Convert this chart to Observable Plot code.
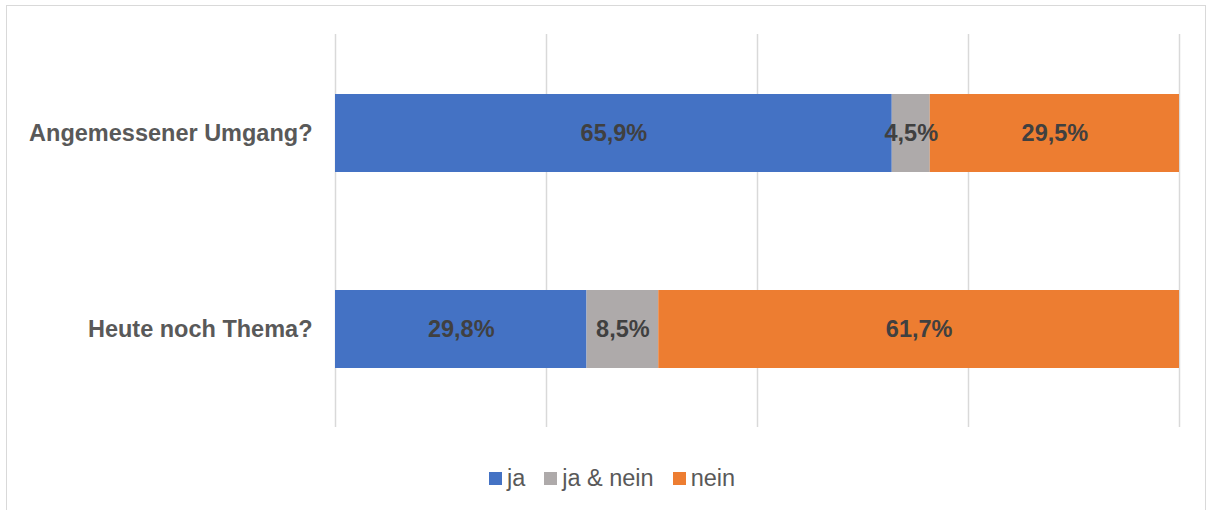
<!DOCTYPE html>
<html>
<head>
<meta charset="utf-8">
<script src="https://cdn.jsdelivr.net/npm/d3@7"></script>
<script src="https://cdn.jsdelivr.net/npm/@observablehq/plot@0.6"></script>
<style>
  html, body { margin: 0; padding: 0; background: #fff; }
  body { width: 1206px; height: 510px; position: relative; overflow: hidden; font-family: "Liberation Sans", Arial, sans-serif; }
  #frame { position: absolute; left: 6px; top: 5px; width: 1200px; height: 520px; border: 1.3px solid #d9d9d9; box-sizing: border-box; }
  #chart { position: absolute; left: 0; top: 0; }
  #legend { position: absolute; left: 0; width: 1224px; top: 464px; height: 28px; display: flex; justify-content: center; align-items: center; gap: 19px; font-size: 23.5px; line-height: 28px; color: #595959; }
  #legend .item { display: flex; align-items: center; gap: 5px; }
  #legend .sw { width: 13px; height: 13px; display: inline-block; }
</style>
</head>
<body>
<div id="frame"></div>
<div id="chart"></div>
<div id="legend"></div>
<script>
const categories = ["Angemessener Umgang?", "Heute noch Thema?"];
const seriesNames = ["ja", "ja & nein", "nein"];
const ja = [65.9, 29.8];
const jaNein = [4.5, 8.5];
const nein = [29.5, 61.7];
const colors = ["#4472C4", "#AEAAAA", "#ED7D31"];
const gridTicks = [0, 0.25, 0.5, 0.75, 1];

const seriesValues = [ja, jaNein, nein];
const data = [];
seriesNames.forEach((s, si) => {
  categories.forEach((c, ci) => {
    data.push({category: c, series: s, value: seriesValues[si][ci]});
  });
});
const fmt = v => v.toFixed(1).replace(".", ",") + "%";

const chart = Plot.plot({
  width: 1206,
  height: 445,
  marginTop: 34,
  marginBottom: 18,
  marginLeft: 335,
  marginRight: 27,
  style: {fontFamily: '"Liberation Sans", Arial, sans-serif', background: "transparent"},
  x: {domain: [0, 1], axis: null},
  y: {domain: categories, paddingInner: 0.603, paddingOuter: 0.3015, label: null},
  color: {domain: seriesNames, range: colors},
  marks: [
    Plot.ruleX(gridTicks, {stroke: "#d9d9d9", strokeWidth: 1.5}),
    Plot.barX(data, Plot.stackX({offset: "normalize", x: "value", y: "category", z: "series", fill: "series"})),
    Plot.text(data, Plot.stackX({offset: "normalize", x: "value", y: "category", z: "series", text: d => fmt(d.value), fill: "#404040", fontSize: 23.5, fontWeight: "bold"})),
    Plot.axisY({tickSize: 0, tickPadding: 23, fontSize: 23.5, fontWeight: "bold", color: "#595959", label: null})
  ]
});
document.getElementById("chart").appendChild(chart);

const legend = document.getElementById("legend");
seriesNames.forEach((s, i) => {
  const item = document.createElement("div");
  item.className = "item";
  const sw = document.createElement("span");
  sw.className = "sw";
  sw.style.background = colors[i];
  const t = document.createElement("span");
  t.textContent = s;
  item.appendChild(sw);
  item.appendChild(t);
  legend.appendChild(item);
});
</script>
</body>
</html>
